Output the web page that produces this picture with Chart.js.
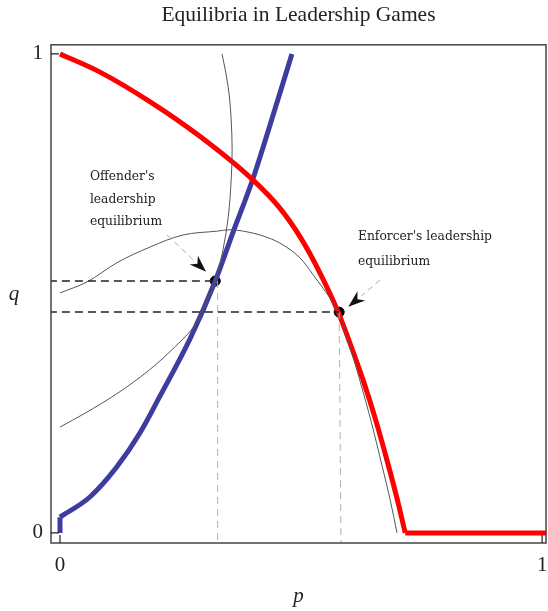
<!DOCTYPE html>
<html>
<head>
<meta charset="utf-8">
<script src="https://cdn.jsdelivr.net/npm/chart.js@4.4.0/dist/chart.umd.min.js"></script>
<style>
  html, body { margin: 0; padding: 0; background: #fff; }
  #wrap { width: 548px; height: 611px; }
</style>
</head>
<body>
<div id="wrap"><canvas id="myChart"></canvas></div>
<script>
// enforcer's reaction curve (red)
const redP = [0, 0.083, 0.187, 0.290, 0.400, 0.456, 0.498, 0.533, 0.577, 0.600, 0.629, 0.655, 0.680, 0.700, 0.716];
const redQ = [1, 0.962, 0.900, 0.828, 0.737, 0.678, 0.618, 0.555, 0.461, 0.400, 0.318, 0.235, 0.145, 0.068, 0.0];
const redFloorP = [0.716, 1.02];
const redFloorQ = [0, 0];

// offender's reaction curve (blue)
const blueStemP = [0, 0];
const blueStemQ = [0, 0.033];
const blueP = [0, 0.062, 0.118, 0.166, 0.207, 0.270, 0.322, 0.359, 0.398, 0.429, 0.481];
const blueQ = [0.033, 0.075, 0.138, 0.209, 0.285, 0.406, 0.526, 0.628, 0.733, 0.830, 1.0];

// iso-payoff curves (thin)
const humpP = [0, 0.056, 0.118, 0.187, 0.255, 0.326, 0.353, 0.380, 0.421, 0.456, 0.498, 0.525, 0.546, 0.577, 0.598, 0.622, 0.646, 0.668, 0.685, 0.699];
const humpQ = [0.501, 0.524, 0.564, 0.597, 0.622, 0.630, 0.633, 0.630, 0.620, 0.605, 0.574, 0.539, 0.510, 0.461, 0.400, 0.318, 0.230, 0.140, 0.068, 0.0];
const steepP = [0, 0.052, 0.117, 0.185, 0.240, 0.277, 0.298, 0.322, 0.338, 0.349, 0.355, 0.357, 0.355, 0.351, 0.344, 0.336];
const steepQ = [0.221, 0.250, 0.290, 0.340, 0.390, 0.430, 0.470, 0.526, 0.591, 0.660, 0.737, 0.800, 0.862, 0.914, 0.960, 1.0];

// equilibria
const eqNames = ["Offender's leadership equilibrium", "Enforcer's leadership equilibrium"];
const eqP = [0.322, 0.579];
const eqQ = [0.526, 0.461];

const tickP = [0, 1];
const tickQ = [0, 1];

function pts(xs, ys) {
    const out = [];
    for (let k = 0; k < xs.length; k++) {
        out.push({x: xs[k], y: ys[k]});
    }
    return out;
}

const serif = "'Liberation Serif', 'DejaVu Serif', serif";
const noteFont = "12.3px 'DejaVu Serif', serif";

// frame, inward ticks, q label, notes and arrows
const extras = {
    id: 'extras',
    afterDraw(chart) {
        const c = chart.ctx;
        const a = chart.chartArea;
        const xs = chart.scales.x;
        const ys = chart.scales.y;
        c.save();
        c.strokeStyle = '#444';
        c.lineWidth = 1.5;
        c.strokeRect(a.left, a.top, a.right - a.left, a.bottom - a.top);
        c.lineWidth = 1.2;
        c.strokeStyle = '#222';
        c.beginPath();
        tickQ.forEach(function(v) {
            const y = ys.getPixelForValue(v);
            c.moveTo(a.left, y);
            c.lineTo(a.left + 8, y);
        });
        tickP.forEach(function(v) {
            const x = xs.getPixelForValue(v);
            c.moveTo(x, a.bottom);
            c.lineTo(x, a.bottom - 8);
        });
        c.stroke();

        c.fillStyle = '#222';
        c.font = "italic 21px " + serif;
        c.textAlign = 'center';
        c.textBaseline = 'middle';
        c.fillText('q', 14, ys.getPixelForValue(0.498));

        c.font = noteFont;
        c.textAlign = 'left';
        c.fillStyle = '#222';
        const px = xs.getPixelForValue(0.062);
        c.fillText("Offender's", px, ys.getPixelForValue(0.743));
        c.fillText('leadership', px, ys.getPixelForValue(0.695));
        c.fillText('equilibrium', px, ys.getPixelForValue(0.649));
        const ex = xs.getPixelForValue(0.618);
        c.fillText("Enforcer's leadership", ex, ys.getPixelForValue(0.618));
        c.fillText('equilibrium', ex, ys.getPixelForValue(0.566));

        function arrow(p0, q0, p1, q1) {
            const x0 = xs.getPixelForValue(p0), y0 = ys.getPixelForValue(q0);
            const x1 = xs.getPixelForValue(p1), y1 = ys.getPixelForValue(q1);
            const ang = Math.atan2(y1 - y0, x1 - x0);
            const hl = 17, hw = 6;
            const bx = x1 - hl * Math.cos(ang), by = y1 - hl * Math.sin(ang);
            c.setLineDash([6, 4]);
            c.strokeStyle = '#aaa';
            c.lineWidth = 1;
            c.beginPath();
            c.moveTo(x0, y0);
            c.lineTo(bx, by);
            c.stroke();
            c.setLineDash([]);
            c.fillStyle = '#111';
            c.beginPath();
            c.moveTo(x1, y1);
            c.lineTo(bx + hw * Math.sin(ang), by - hw * Math.cos(ang));
            c.lineTo(x1 - 0.7 * hl * Math.cos(ang), y1 - 0.7 * hl * Math.sin(ang));
            c.lineTo(bx - hw * Math.sin(ang), by + hw * Math.cos(ang));
            c.closePath();
            c.fill();
        }
        arrow(0.222, 0.622, 0.303, 0.545);
        arrow(0.664, 0.528, 0.598, 0.472);
        c.restore();
    }
};

const ctx = document.getElementById('myChart');
new Chart(ctx, {
    type: 'scatter',
    data: {
        datasets: [
            {
                label: 'offender dashed q',
                data: pts([-0.05, eqP[0]], [eqQ[0], eqQ[0]]),
                showLine: true, borderColor: '#222', borderWidth: 1.5, borderDash: [8, 5], pointRadius: 0
            },
            {
                label: 'enforcer dashed q',
                data: pts([-0.05, eqP[1]], [eqQ[1], eqQ[1]]),
                showLine: true, borderColor: '#222', borderWidth: 1.5, borderDash: [8, 5], pointRadius: 0
            },
            {
                label: 'offender dashed p',
                data: pts([eqP[0] + 0.005, eqP[0] + 0.005], [eqQ[0], -0.05]),
                showLine: true, borderColor: '#b0b0b0', borderWidth: 1, borderDash: [7, 5], pointRadius: 0
            },
            {
                label: 'enforcer dashed p',
                data: pts([eqP[1], eqP[1] + 0.004], [eqQ[1], -0.05]),
                showLine: true, borderColor: '#b0b0b0', borderWidth: 1, borderDash: [7, 5], pointRadius: 0
            },
            {
                label: 'hump', data: pts(humpP, humpQ),
                showLine: true, borderColor: '#555', borderWidth: 1, pointRadius: 0,
                cubicInterpolationMode: 'monotone'
            },
            {
                label: 'steep', data: pts(steepP, steepQ), indexAxis: 'y',
                showLine: true, borderColor: '#555', borderWidth: 1, pointRadius: 0,
                cubicInterpolationMode: 'monotone'
            },
            {
                label: 'enforcer', data: pts(redP, redQ),
                showLine: true, borderColor: '#ff0000', borderWidth: 5, pointRadius: 0,
                cubicInterpolationMode: 'monotone'
            },
            {
                label: 'enforcer floor', data: pts(redFloorP, redFloorQ),
                showLine: true, borderColor: '#ff0000', borderWidth: 5, pointRadius: 0
            },
            {
                label: 'offender stem', data: pts(blueStemP, blueStemQ),
                showLine: true, borderColor: '#3d3d9f', borderWidth: 5, pointRadius: 0, borderCapStyle: 'butt'
            },
            {
                label: 'offender', data: pts(blueP, blueQ),
                showLine: true, borderColor: '#3d3d9f', borderWidth: 5, pointRadius: 0,
                cubicInterpolationMode: 'monotone'
            },
            {
                label: 'equilibria', data: pts(eqP, eqQ),
                showLine: false, pointRadius: 5, pointBackgroundColor: '#000', pointBorderColor: '#000'
            }
        ]
    },
    options: {
        responsive: true,
        maintainAspectRatio: false,
        animation: false,
        layout: { autoPadding: false, padding: { left: 0, right: 2, top: 0, bottom: 0 } },
        plugins: {
            legend: { display: false },
            tooltip: { enabled: false },
            title: {
                display: true,
                fullSize: false,
                text: 'Equilibria in Leadership Games',
                color: '#222',
                font: { family: serif, size: 21.5, weight: 'normal' },
                padding: { top: 2, bottom: 17 }
            }
        },
        scales: {
            x: {
                type: 'linear',
                min: -0.0187,
                max: 1.008,
                afterBuildTicks: function(scale) {
                    scale.ticks = tickP.map(function(v) { return {value: v}; });
                },
                afterFit: function(scale) {
                    scale.height = 68;
                    scale.paddingLeft = 0;
                    scale.paddingRight = 0;
                },
                grid: { display: false, drawTicks: false },
                border: { display: false },
                ticks: {
                    autoSkip: false, maxRotation: 0, padding: 10, color: '#222',
                    font: { family: serif, size: 21 },
                    callback: function(v) { return String(v); }
                },
                title: {
                    display: true, text: 'p', color: '#222',
                    font: { family: serif, size: 21, style: 'italic' },
                    padding: { top: 0, bottom: 2 }
                }
            },
            y: {
                type: 'linear',
                min: -0.021,
                max: 1.019,
                afterBuildTicks: function(scale) {
                    scale.ticks = tickQ.map(function(v) { return {value: v}; });
                },
                afterFit: function(scale) { scale.width = 51; },
                grid: { display: false, drawTicks: false },
                border: { display: false },
                ticks: {
                    autoSkip: false, padding: 8, color: '#222',
                    font: { family: serif, size: 21 },
                    callback: function(v) { return String(v); }
                }
            }
        }
    },
    plugins: [extras]
});
</script>
</body>
</html>
